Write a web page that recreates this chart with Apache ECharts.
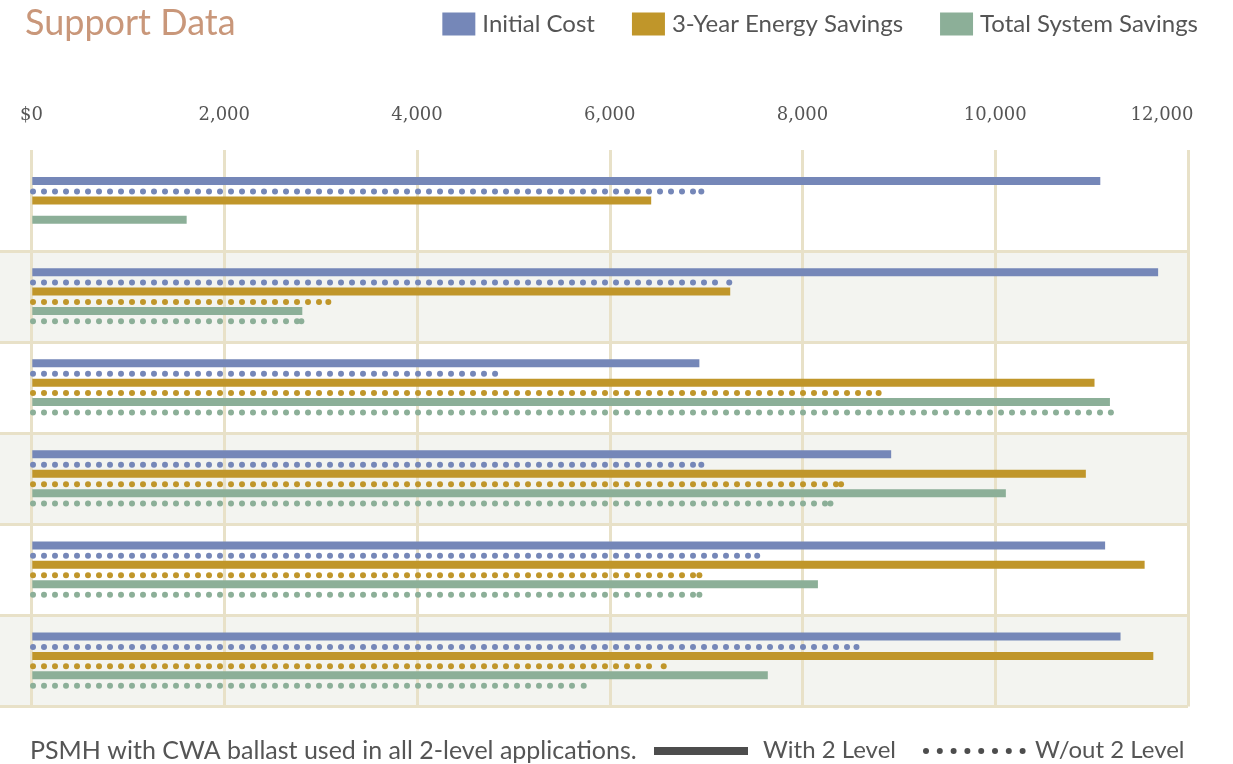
<!DOCTYPE html>
<html>
<head>
<meta charset="utf-8">
<title>Support Data</title>
<script src="https://cdn.jsdelivr.net/npm/echarts@6.0.0/dist/echarts.min.js"></script>
<style>
  html, body { margin: 0; padding: 0; background: #ffffff; }
  #chart { width: 1233px; height: 764px; }
</style>
</head>
<body>
<div id="chart"></div>
<script>
// Rows, top to bottom
const categories = ['Application 1', 'Application 2', 'Application 3', 'Application 4', 'Application 5', 'Application 6'];

// Dollar values per row; null = no bar in that row
const initialWith     = [11090, 11690, 6930, 8920, 11140, 11300];
const initialWithout  = [6950, 7240, 4810, 6950, 7530, 8560];
const energyWith      = [6430, 7250, 11030, 10940, 11550, 11640];
const energyWithout   = [null, 3080, 8790, 8400, 6930, 6560];
const totalWith       = [1610, 2810, 11190, 10110, 8160, 7640];
const totalWithout    = [null, 2800, 11200, 8290, 6930, 5730];

const tickLabels = ['$0', '2,000', '4,000', '6,000', '8,000', '10,000', '12,000'];
const seriesNames = ['Initial Cost', '3-Year Energy Savings', 'Total System Savings'];
const footNote = 'PSMH with CWA ballast used in all 2-level applications.';
const keyWith = 'With 2 Level';
const keyWithout = 'W/out 2 Level';

// ---- styling ----
const COLORS = ['#7587b8', '#c0962a', '#8caf98'];
const RULE = '#e8e1c8';
const BAND = '#f3f4f0';
const TEXT = '#555555';
const SANS = 'Lato, "Open Sans", sans-serif';
const SERIF = '"DejaVu Serif", "Liberation Serif", serif';

const GRID_TOP = 160;
const GRID_BOTTOM = 57.4;
const GRID_RIGHT = 45;

function toData(values) {
  const out = [];
  values.forEach((v, i) => { if (v != null) out.push([v, i]); });
  return out;
}

// Solid bar: a rectangle from 0 to the value, shifted inside the row band
function barRenderer(offset) {
  return function (params, api) {
    const v = api.value(0);
    const row = api.value(1);
    const p0 = api.coord([0, row]);
    const p1 = api.coord([v, row]);
    const y = p0[1] + offset;
    return {
      type: 'rect',
      shape: { x: p0[0] + 0.8, y: y - 4, width: p1[0] - p0[0] - 0.8, height: 8 },
      style: { fill: api.visual('color') }
    };
  };
}

// Dotted bar: evenly spaced dots from 0, with the last dot placed on the value
function dotRenderer(offset) {
  return function (params, api) {
    const v = api.value(0);
    const row = api.value(1);
    const p0 = api.coord([0, row]);
    const p1 = api.coord([v, row]);
    const y = p0[1] + offset;
    const fill = api.visual('color');
    const xs = [];
    for (let x = p0[0] + 1.5; x <= p1[0] - 4; x += 11) xs.push(x);
    xs.push(p1[0]);
    return {
      type: 'group',
      children: xs.map(cx => ({
        type: 'circle',
        shape: { cx: cx, cy: y, r: 3 },
        style: { fill: fill }
      }))
    };
  };
}

const pairs = [
  [initialWith, initialWithout],
  [energyWith, energyWithout],
  [totalWith, totalWithout]
];

const series = [];
pairs.forEach((pair, p) => {
  const base = -24.5 + 19.4 * p;
  series.push({
    type: 'custom',
    name: seriesNames[p],
    xAxisIndex: 1,
    yAxisIndex: 1,
    encode: { x: 0, y: 1 },
    itemStyle: { color: COLORS[p] },
    renderItem: barRenderer(base),
    data: toData(pair[0]),
    silent: true
  });
  series.push({
    type: 'custom',
    name: seriesNames[p],
    xAxisIndex: 1,
    yAxisIndex: 1,
    encode: { x: 0, y: 1 },
    itemStyle: { color: COLORS[p] },
    renderItem: dotRenderer(base + 10.4),
    data: toData(pair[1]),
    silent: true
  });
});

// Footer key: a solid stroke and a row of dots
const keyDots = [];
for (let k = 0; k < 8; k++) {
  keyDots.push({
    type: 'circle',
    shape: { cx: 926 + k * 13.8, cy: 751, r: 3 },
    style: { fill: '#4d4d4d' }
  });
}

const chart = echarts.init(document.getElementById('chart'));
chart.setOption({
  backgroundColor: '#ffffff',
  animation: false,
  title: {
    text: 'Support Data',
    left: 20,
    top: 0,
    textStyle: { fontFamily: SANS, fontSize: 36, fontWeight: 'normal', color: '#c9977a' }
  },
  legend: {
    data: seriesNames,
    icon: 'rect',
    right: 30,
    top: 7,
    itemWidth: 33,
    itemHeight: 23,
    itemGap: 37,
    selectedMode: false,
    textStyle: { fontFamily: SANS, fontSize: 24, color: TEXT, padding: [0, 0, 0, 2] }
  },
  grid: [
    // full-width grid carrying the row bands and row rules
    { left: 0, right: GRID_RIGHT, top: GRID_TOP, bottom: GRID_BOTTOM },
    // data grid, starting at the $0 rule
    { left: 31.5, right: GRID_RIGHT, top: GRID_TOP, bottom: GRID_BOTTOM }
  ],
  xAxis: [
    { gridIndex: 0, type: 'value', min: 0, max: 12000, show: false },
    {
      gridIndex: 1,
      type: 'value',
      position: 'top',
      min: 0,
      max: 12000,
      interval: 2000,
      axisLine: { show: false },
      axisTick: { show: true, inside: false, length: 10, lineStyle: { color: RULE, width: 3 } },
      splitLine: { show: true, lineStyle: { color: RULE, width: 3 } },
      axisLabel: {
        margin: 36,
        fontFamily: SERIF,
        fontSize: 18,
        color: TEXT,
        formatter: function (v) {
          const idx = Math.round(v / 2000);
          const s = tickLabels[idx];
          return idx === tickLabels.length - 1 ? '{last|' + s + '}' : s;
        },
        rich: {
          last: { fontFamily: SERIF, fontSize: 18, color: TEXT, padding: [0, 52, 0, 0] }
        }
      }
    }
  ],
  yAxis: [
    {
      gridIndex: 0,
      type: 'category',
      data: categories,
      inverse: true,
      axisLine: { show: false },
      axisTick: { show: false },
      axisLabel: { show: false },
      splitArea: { show: true, areaStyle: { color: ['#ffffff', BAND] } },
      splitLine: { show: true, showMinLine: false, lineStyle: { color: RULE, width: 3 } }
    },
    {
      gridIndex: 1,
      type: 'category',
      data: categories,
      inverse: true,
      show: false
    }
  ],
  graphic: [
    {
      type: 'text',
      left: 30,
      top: 738,
      style: { text: footNote, font: '25px ' + SANS, fill: TEXT }
    },
    {
      type: 'rect',
      shape: { x: 654, y: 747, width: 94, height: 8 },
      style: { fill: '#4d4d4d' }
    },
    {
      type: 'text',
      left: 763,
      top: 738,
      style: { text: keyWith, font: '24px ' + SANS, fill: TEXT }
    },
    { type: 'group', children: keyDots },
    {
      type: 'text',
      left: 1035,
      top: 738,
      style: { text: keyWithout, font: '24px ' + SANS, fill: TEXT }
    }
  ],
  series: series
});
</script>
</body>
</html>
